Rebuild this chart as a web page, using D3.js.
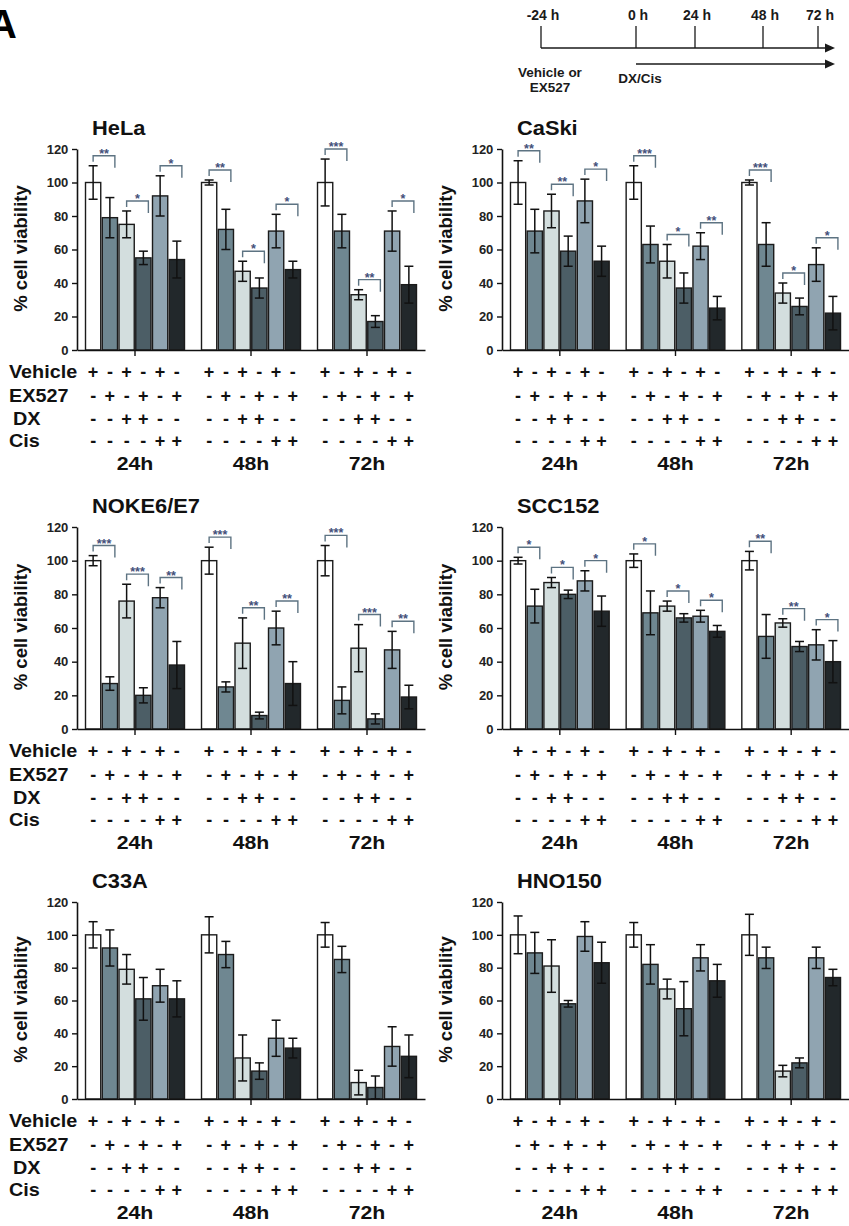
<!DOCTYPE html>
<html>
<head>
<meta charset="utf-8">
<script src="https://cdn.jsdelivr.net/npm/d3@7"></script>
<style>
  body { margin: 0; background: #fff; }
  svg { display: block; }
  text { font-family: Arial, "Liberation Sans", sans-serif; font-weight: bold; }
</style>
</head>
<body>
<svg id="fig" width="849" height="1226"></svg>
<script>
// --- data ---
const timeLabels = ['24h', '48h', '72h'];
const treatments = ['Vehicle', 'EX527', 'DX', 'Cis'];
const vehicleSigns = ['+', '-', '+', '-', '+', '-'];
const ex527Signs = ['-', '+', '-', '+', '-', '+'];
const dxSigns = ['-', '-', '+', '+', '-', '-'];
const cisSigns = ['-', '-', '-', '-', '+', '+'];
const barColors = ['#ffffff', '#6f8791', '#d3dede', '#4c5e66', '#90a4b1', '#22282b'];
const yTicks = [0, 20, 40, 60, 80, 100, 120];
const timelineHours = [-24, 0, 24, 48, 72];

const helaMean = [[100, 79, 75, 55, 92, 54], [100, 72, 47, 37, 71, 48], [100, 71, 33, 17, 71, 39]];
const helaErr = [[10, 12, 8, 4, 12, 11], [1.5, 12, 6, 6, 10, 5], [14, 10, 3, 3.5, 12, 11]];
const helaSig = [['**', '*', '*'], ['**', '*', '*'], ['***', '**', '*']];

const caskiMean = [[100, 71, 83, 59, 89, 53], [100, 63, 53, 37, 62, 25], [100, 63, 34, 26, 51, 22]];
const caskiErr = [[13, 13, 10, 9, 13, 9], [10, 11, 10, 9, 8, 7], [1.5, 13, 6, 5, 10, 10]];
const caskiSig = [['**', '**', '*'], ['***', '*', '**'], ['***', '*', '*']];

const nokeMean = [[100, 27, 76, 20, 78, 38], [100, 25, 51, 8, 60, 27], [100, 17, 48, 6, 47, 19]];
const nokeErr = [[3, 4, 10, 4.5, 6, 14], [8, 3, 15, 2, 10, 13], [9, 8, 14, 3, 11, 7]];
const nokeSig = [['***', '***', '**'], ['***', '**', '**'], ['***', '***', '**']];

const sccMean = [[100, 73, 87, 80, 88, 70], [100, 69, 73, 66, 67, 58], [100, 55, 63, 49, 50, 40]];
const sccErr = [[2, 10, 3, 2.5, 6, 9], [4, 13, 3, 2.5, 3.5, 3.5], [5.5, 13, 2.5, 3, 9, 12.5]];
const sccSig = [['*', '*', '*'], ['*', '*', '*'], ['**', '**', '*']];

const c33aMean = [[100, 92, 79, 61, 69, 61], [100, 88, 25, 17, 37, 31], [100, 85, 10, 7, 32, 26]];
const c33aErr = [[8, 11, 9, 13, 10, 11], [11, 8, 14, 5, 11, 6], [7.5, 8, 7.5, 7, 12, 13]];

const hnoMean = [[100, 89, 81, 58, 99, 83], [100, 82, 67, 55, 86, 72], [100, 86, 17, 22, 86, 74]];
const hnoErr = [[11.5, 12.5, 16, 2, 9, 12.5], [7.5, 12, 6, 16.5, 8, 10], [12.5, 6.5, 3.5, 3, 6.5, 5]];

const panels = [
  { name: 'HeLa', mean: helaMean, err: helaErr, sig: helaSig, col: 0, row: 0 },
  { name: 'CaSki', mean: caskiMean, err: caskiErr, sig: caskiSig, col: 1, row: 0 },
  { name: 'NOKE6/E7', mean: nokeMean, err: nokeErr, sig: nokeSig, col: 0, row: 1 },
  { name: 'SCC152', mean: sccMean, err: sccErr, sig: sccSig, col: 1, row: 1 },
  { name: 'C33A', mean: c33aMean, err: c33aErr, sig: null, col: 0, row: 2 },
  { name: 'HNO150', mean: hnoMean, err: hnoErr, sig: null, col: 1, row: 2 }
];

// --- layout ---
const colX = [77, 502];
const colW = [348, 347];
const rowTop = [149, 527, 902];
const rowBottom = [350, 729, 1099];
const tableBaselines = [28, 52, 75, 97];
const signRows = [vehicleSigns, ex527Signs, dxSigns, cisSigns];

// the source figure is a little wider than tall, so its lettering is stretched sideways
function stretch(sel, k) {
  sel.each(function () {
    const t = d3.select(this);
    const x = +t.attr('x'), y = +t.attr('y');
    t.attr('x', 0).attr('y', 0).attr('transform', `translate(${x},${y}) scale(${k},1)`);
  });
}

const svg = d3.select('#fig');

// panel letter (cropped at the left edge, as in the source)
svg.append('text')
    .attr('x', -12)
    .attr('y', 38)
    .attr('font-size', 40)
    .text('A');

// treatment timeline
const tl = d3.scaleLinear().domain([-24, 0, 24, 48, 72]).range([541, 636, 695, 763, 818]);
const tlEnd = 835;
const timeline = svg.append('g').attr('stroke', '#1a1a1a');

timeline.append('line')
    .attr('x1', tl(-24)).attr('x2', tlEnd - 6)
    .attr('y1', 48).attr('y2', 48)
    .attr('stroke-width', 1.4);
timeline.append('line')
    .attr('x1', tl(0)).attr('x2', tlEnd - 6)
    .attr('y1', 64).attr('y2', 64)
    .attr('stroke-width', 1.4);
[48, 64].forEach(yy => {
  svg.append('path')
      .attr('d', `M${tlEnd - 10},${yy - 4.5}L${tlEnd},${yy}L${tlEnd - 10},${yy + 4.5}Z`)
      .attr('fill', '#1a1a1a');
});
timeline.selectAll('.tick')
  .data(timelineHours)
  .join('line')
    .attr('x1', d => tl(d)).attr('x2', d => tl(d))
    .attr('y1', 48).attr('y2', 26)
    .attr('stroke-width', 1.3);
svg.append('g')
    .attr('font-size', 14)
    .attr('text-anchor', 'middle')
    .attr('fill', '#1a1a1a')
  .selectAll('text')
  .data(timelineHours)
  .join('text')
    .attr('x', d => tl(d) + 2)
    .attr('y', 20)
    .text(d => `${d} h`);
svg.append('text')
    .attr('x', tl(-24) + 9).attr('y', 77)
    .attr('font-size', 13.5).attr('text-anchor', 'middle')
    .attr('fill', '#1a1a1a')
    .call(t => t.append('tspan').attr('x', tl(-24) + 9).text('Vehicle or'))
    .call(t => t.append('tspan').attr('x', tl(-24) + 9).attr('dy', 15).text('EX527'));
svg.append('text')
    .attr('x', tl(0) + 4).attr('y', 83)
    .attr('font-size', 13.5).attr('text-anchor', 'middle')
    .attr('fill', '#1a1a1a')
    .text('DX/Cis');

// --- panels ---
panels.forEach(p => {
  const x0 = colX[p.col];
  const w = colW[p.col];
  const top = rowTop[p.row];
  const bottom = rowBottom[p.row];

  const y = d3.scaleLinear().domain([0, 120]).range([bottom, top]);
  const gx = d3.scaleBand()
      .domain(timeLabels)
      .range([x0, x0 + w])
      .paddingInner(0.138)
      .paddingOuter(0.069);
  const bx = d3.scaleBand()
      .domain(d3.range(6))
      .range([0, gx.bandwidth()])
      .paddingInner(0.09)
      .paddingOuter(0.03);
  const cx = (t, i) => gx(t) + bx(i) + bx.bandwidth() / 2;

  const g = svg.append('g');

  // title
  g.append('text')
      .attr('x', x0 + 15)
      .attr('y', top - 14)
      .attr('font-size', 19.5)
      .attr('fill', '#111')
      .text(p.name)
      .call(stretch, 1.12);

  // y label
  g.append('text')
      .attr('transform', `translate(${x0 - 50},${(top + bottom) / 2 - 1}) rotate(-90)`)
      .attr('text-anchor', 'middle')
      .attr('font-size', 18.5)
      .attr('fill', '#111')
      .text('% cell viability');

  const bars = timeLabels.flatMap((t, gi) => p.mean[gi].map((v, i) => ({ t, gi, i, v, e: p.err[gi][i] })));

  g.append('g')
    .selectAll('rect')
    .data(bars)
    .join('rect')
      .attr('x', d => gx(d.t) + bx(d.i))
      .attr('y', d => y(d.v))
      .attr('width', bx.bandwidth())
      .attr('height', d => bottom - y(d.v))
      .attr('fill', d => barColors[d.i])
      .attr('stroke', '#1b1b1b')
      .attr('stroke-width', 1.4);

  // error bars
  const eg = g.append('g').attr('stroke', '#111').attr('stroke-width', 1.5);
  eg.selectAll('.v')
    .data(bars)
    .join('line')
      .attr('x1', d => cx(d.t, d.i)).attr('x2', d => cx(d.t, d.i))
      .attr('y1', d => y(d.v - d.e)).attr('y2', d => y(d.v + d.e));
  [1, -1].forEach(s => {
    eg.selectAll(null)
      .data(bars)
      .join('line')
        .attr('x1', d => cx(d.t, d.i) - 4.5).attr('x2', d => cx(d.t, d.i) + 4.5)
        .attr('y1', d => y(d.v + s * d.e)).attr('y2', d => y(d.v + s * d.e));
  });

  // significance brackets
  if (p.sig) {
    const br = timeLabels.flatMap((t, gi) => p.sig[gi].map((s, k) => {
      const a = 2 * k, b = 2 * k + 1;
      const topVal = Math.max(p.mean[gi][a] + p.err[gi][a], p.mean[gi][b] + p.err[gi][b]) + 6;
      return { t, a, b, s, yy: y(topVal) };
    }));
    const bg = g.append('g');
    bg.selectAll('path')
      .data(br)
      .join('path')
        .attr('d', d => {
          const xl = cx(d.t, d.a), xr = cx(d.t, d.b) + 5;
          return `M${xl},${d.yy + 6}V${d.yy}H${xr}V${d.yy + 12}`;
        })
        .attr('fill', 'none')
        .attr('stroke', '#5d7382')
        .attr('stroke-width', 1.4);
    bg.selectAll('text')
      .data(br)
      .join('text')
        .attr('x', d => (cx(d.t, d.a) + cx(d.t, d.b) + 5) / 2)
        .attr('y', d => d.yy + 2)
        .attr('text-anchor', 'middle')
        .attr('font-size', 12.5)
        .attr('fill', '#44507a')
        .text(d => d.s);
  }

  // axes
  const ya = g.append('g')
      .attr('transform', `translate(${x0},0)`)
      .call(d3.axisLeft(y).tickValues(yTicks).tickSize(5).tickSizeOuter(0));
  const xa = g.append('g')
      .attr('transform', `translate(0,${bottom})`)
      .call(d3.axisBottom(gx).tickSize(6).tickSizeOuter(0).tickFormat(''));
  [ya, xa].forEach(a => {
    a.select('.domain').attr('stroke', '#111').attr('stroke-width', 1.6);
    a.selectAll('.tick line').attr('stroke', '#111').attr('stroke-width', 1.4);
  });
  ya.selectAll('.tick text')
      .attr('font-size', 13)
      .attr('font-family', 'Arial, "Liberation Sans", sans-serif')
      .attr('font-weight', 'bold')
      .attr('fill', '#222')
      .attr('dx', '-0.05em');

  // treatment table
  const tg = g.append('g').attr('fill', '#111');
  signRows.forEach((signs, r) => {
    if (p.col === 0) {
      tg.append('text')
          .attr('x', treatments[r] === 'DX' ? 13 : 9)
          .attr('y', bottom + tableBaselines[r])
          .attr('font-size', 18)
          .text(treatments[r])
          .call(stretch, 1.1);
    }
    timeLabels.forEach(t => {
      tg.selectAll(null)
        .data(signs)
        .join('text')
          .attr('x', (d, i) => cx(t, i))
          .attr('y', bottom + tableBaselines[r])
          .attr('text-anchor', 'middle')
          .attr('font-size', 18)
          .text(d => d);
    });
  });
  tg.selectAll('.lbl')
    .data(timeLabels)
    .join('text')
      .attr('x', t => gx(t) + gx.bandwidth() / 2)
      .attr('y', bottom + 120)
      .attr('text-anchor', 'middle')
      .attr('font-size', 19)
      .text(t => t)
      .call(stretch, 1.12);
});
</script>
</body>
</html>
